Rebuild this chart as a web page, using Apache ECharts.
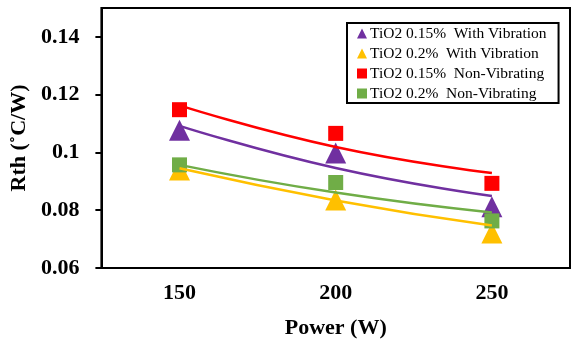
<!DOCTYPE html>
<html>
<head>
<meta charset="utf-8">
<script src="https://cdn.jsdelivr.net/npm/echarts@6/dist/echarts.min.js"></script>
<style type="text/css">
	html,body{margin:0;padding:0;background:#fff;}
	#rth_chart_div{width:573px;height:345px;}
</style>
</head>
<body>
<div id="rth_chart_div"></div>
<script>
	// x values (W)
	var power = [150, 200, 250];
	var xTicks = [150, 200, 250];
	var yTicks = [0.06, 0.08, 0.1, 0.12, 0.14];

	var seriesNames = [
		'TiO2 0.15%  With Vibration',
		'TiO2 0.2%  With Vibration',
		'TiO2 0.15%  Non-Vibrating',
		'TiO2 0.2%  Non-Vibrating'
	];
	// measured points
	var vib015 = [0.1077, 0.0998, 0.0812];
	var vib02 = [0.0939, 0.0835, 0.0721];
	var non015 = [0.1148, 0.1066, 0.0893];
	var non02 = [0.0957, 0.0896, 0.0763];
	// trend lines
	var vib015Trend = [0.1092, 0.0946, 0.0849];
	var vib02Trend = [0.0945, 0.0834, 0.0747];
	var non015Trend = [0.1163, 0.1019, 0.0929];
	var non02Trend = [0.0957, 0.0861, 0.0792];

	var colors = ['#7030A0', '#FFC000', '#FF0000', '#70AD47'];
	var symbols = ['triangle', 'triangle', 'rect', 'rect'];
	var symbolSizes = [[21, 21], [21, 21], 15, 15];
	var pointData = [vib015, vib02, non015, non02];
	var trendData = [vib015Trend, vib02Trend, non015Trend, non02Trend];

	function pairs(vals){
		return vals.map(function(v, i){ return [power[i], v]; });
	}

	var series = [];
	for (var i = 0; i < seriesNames.length; i++) {
		series.push({
			name: seriesNames[i],
			type: 'scatter',
			symbol: symbols[i],
			symbolSize: symbolSizes[i],
			itemStyle: {color: colors[i], opacity: 1},
			z: 2,
			data: pairs(pointData[i])
		});
	}
	for (var j = 0; j < trendData.length; j++) {
		series.push({
			name: 'trend' + j,
			type: 'line',
			smooth: true,
			symbol: 'none',
			silent: true,
			z: 3,
			lineStyle: {color: colors[j], width: 2.5},
			data: pairs(trendData[j])
		});
	}

	var fontFam = '"Liberation Serif", "Times New Roman", serif';
	var option = {
		animation: false,
		textStyle: {fontFamily: fontFam},
		grid: {
			left: 98, right: 3, top: 8, bottom: 77,
			show: true, borderColor: '#000', borderWidth: 2
		},
		legend: {
			orient: 'vertical',
			left: 347,
			top: 23,
			padding: [2, 12, 1, 10],
			itemGap: 3,
			itemWidth: 10,
			itemHeight: 10,
			borderColor: '#000',
			borderWidth: 2,
			backgroundColor: '#fff',
			textStyle: {fontFamily: fontFam, fontSize: 15.5, lineHeight: 17, color: '#000', padding: [0, 0, 0, -2]},
			data: [
				{name: seriesNames[0], icon: 'triangle', itemStyle: {color: colors[0]}},
				{name: seriesNames[1], icon: 'triangle', itemStyle: {color: colors[1]}},
				{name: seriesNames[2], icon: 'rect', itemStyle: {color: colors[2]}},
				{name: seriesNames[3], icon: 'rect', itemStyle: {color: colors[3]}}
			]
		},
		xAxis: {
			type: 'value',
			min: 125,
			max: 275,
			name: 'Power (W)',
			nameLocation: 'middle',
			nameGap: 49,
			nameTextStyle: {fontFamily: fontFam, fontSize: 22, fontWeight: 'bold', color: '#000'},
			axisLine: {show: true, lineStyle: {color: '#000', width: 2}},
			axisTick: {show: false},
			splitLine: {show: false},
			axisLabel: {
				customValues: xTicks,
				margin: 14,
				fontFamily: fontFam, fontSize: 22, fontWeight: 'bold', color: '#000'
			}
		},
		yAxis: {
			type: 'value',
			min: 0.06,
			max: 0.15,
			interval: 0.02,
			name: 'Rth (˚C/W)',
			nameLocation: 'middle',
			nameGap: 63,
			nameTextStyle: {fontFamily: fontFam, fontSize: 22, fontWeight: 'bold', color: '#000'},
			axisLine: {show: true, lineStyle: {color: '#000', width: 2}},
			axisTick: {show: true, customValues: yTicks, length: 6, lineStyle: {color: '#000', width: 2}},
			splitLine: {show: false},
			axisLabel: {
				customValues: yTicks,
				margin: 22,
				fontFamily: fontFam, fontSize: 22, fontWeight: 'bold', color: '#000'
			}
		},
		series: series
	};

	var rth_chart = echarts.init(document.getElementById('rth_chart_div'));
	rth_chart.setOption(option);
</script>
</body>
</html>
